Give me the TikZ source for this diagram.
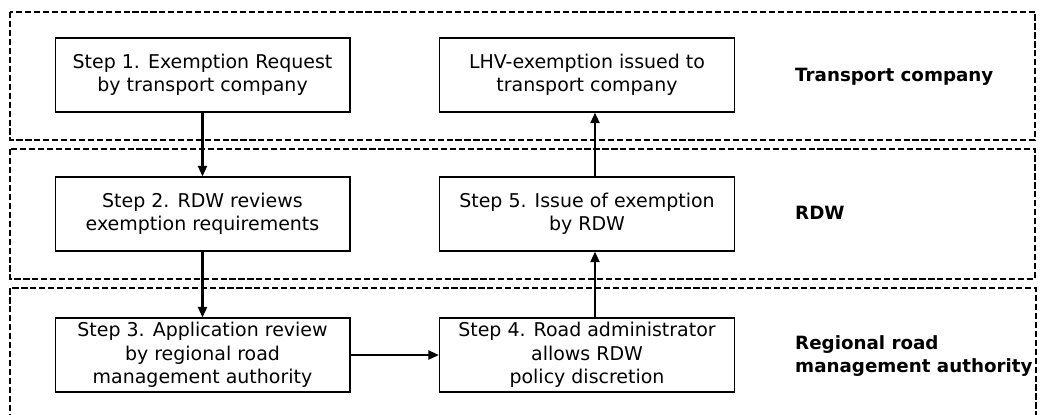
\documentclass[tikz,border=0pt]{standalone}
\usepackage{fontspec}
\setmainfont{DejaVu Sans}
\usepackage{tikz}
\usetikzlibrary{positioning, arrows.meta}

\begin{document}
\begin{tikzpicture}[x=0.02cm, y=-0.02cm,
    font=\fontsize{10.8}{13.3}\selectfont,
    stepbox/.style={draw, line width=0.6pt, fill=white, align=center,
        minimum width=5.9cm, minimum height=1.48cm, inner sep=2pt},
    lane/.style={line width=1.2pt, dash pattern=on 3.5pt off 1.6pt},
    lanelabel/.style={anchor=west, align=left, font=\fontsize{10.4}{13.3}\selectfont\bfseries},
    flow/.style={line width=1.4pt, -{Triangle[length=6pt, width=5pt]}}]
                \useasboundingbox (0,0) rectangle (1064,414);

                %Lanes
                \draw[lane] (10,12) rectangle (1035,140);
                \draw[lane] (10,149) rectangle (1035,279);
                \draw[lane] (10,420) -- (10,288) -- (1036,288) -- (1036,420);

                %Nodes
                \node[stepbox] at (202.5,75) (stepone) {Step 1. Exemption Request\\by transport company};
                \node[stepbox] at (587,75) (issued) {LHV-exemption issued to\\transport company};
                \node[stepbox] at (202.5,214) (steptwo) {Step 2. RDW reviews\\exemption requirements};
                \node[stepbox] at (587,214) (stepfive) {Step 5. Issue of exemption\\by RDW};
                \node[stepbox] at (202.5,355) (stepthree) {Step 3. Application review\\by regional road\\management authority};
                \node[stepbox] at (587,355) (stepfour) {Step 4. Road administrator\\allows RDW\\policy discretion};

                \node[lanelabel] at (789,77) (transport) {Transport company};
                \node[lanelabel] at (789,213) (rdw) {RDW};
                \node[lanelabel] at (789,356) (regional) {Regional road\\management authority};

                %Lines
                \draw[flow] (stepone) -- (steptwo);
                \draw[flow] (steptwo) -- (stepthree);
                \draw[flow] (stepthree) -- (stepfour);
                \draw[flow] ([xshift=0.16cm]stepfour.north) -- ([xshift=0.16cm]stepfive.south);
                \draw[flow] ([xshift=0.16cm]stepfive.north) -- ([xshift=0.16cm]issued.south);
            \end{tikzpicture}
\end{document}
